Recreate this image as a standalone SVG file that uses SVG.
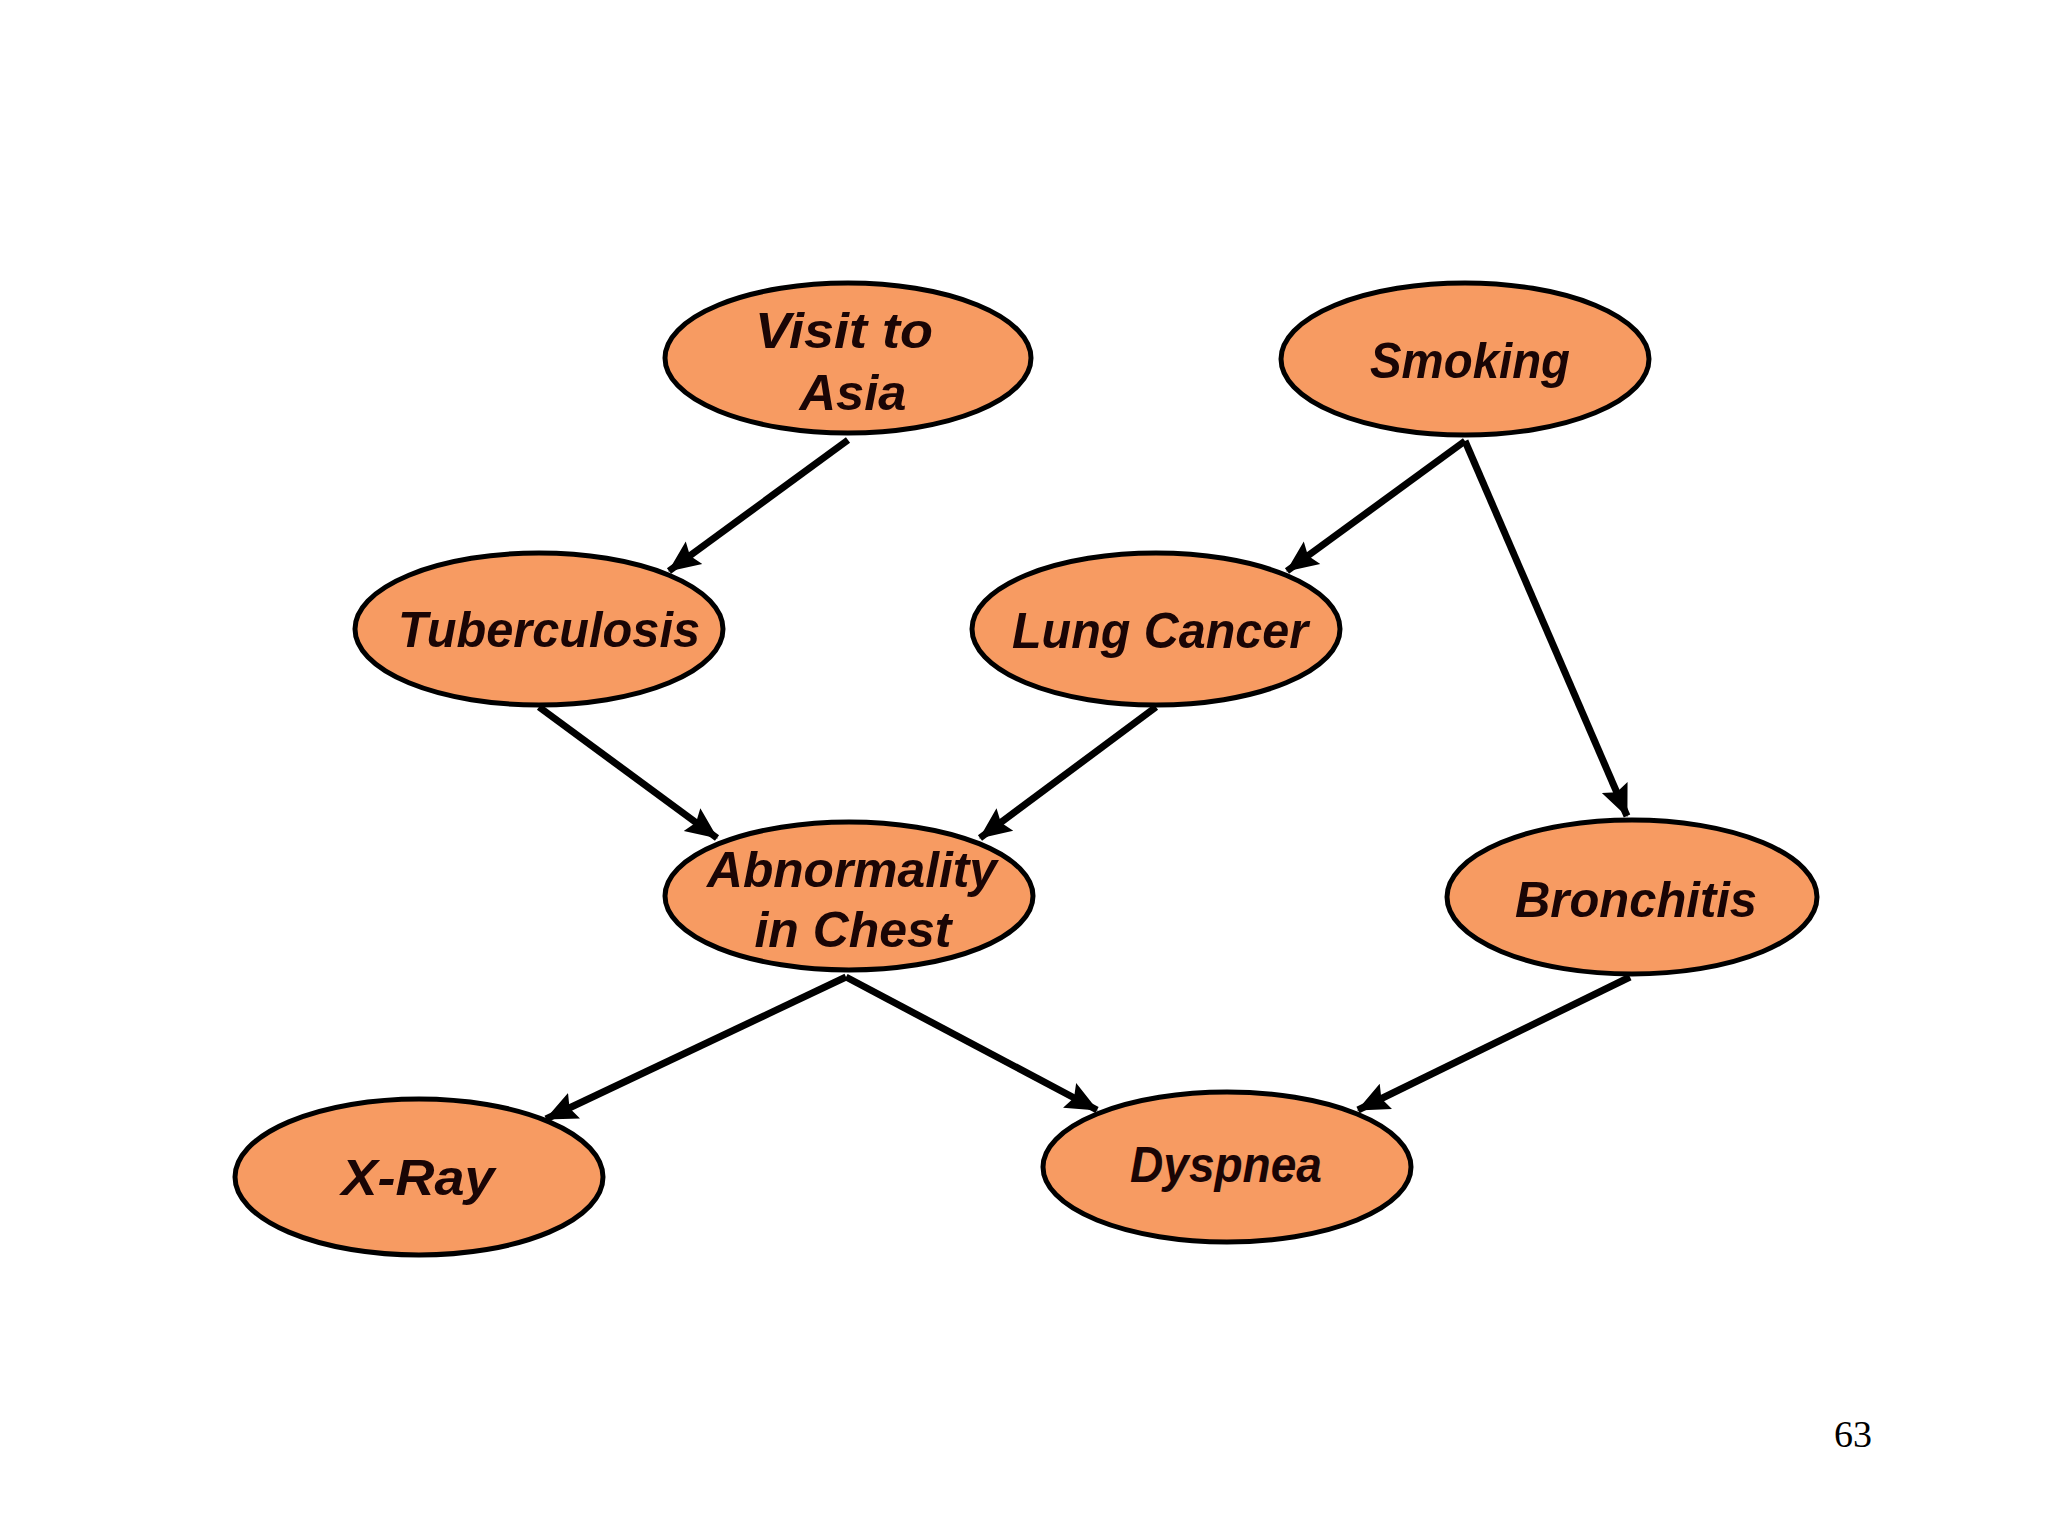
<svg xmlns="http://www.w3.org/2000/svg" width="2048" height="1536" viewBox="0 0 2048 1536">
<defs>
<marker id="ah" markerUnits="userSpaceOnUse" markerWidth="34" markerHeight="30" refX="31" refY="15" orient="auto">
<path d="M0,1 L32,15 L0,29 L5,15 Z" fill="#000"/>
</marker>
</defs>
<style>
.node ellipse{fill:#F79B62;stroke:#000;stroke-width:5}
.node text{font-family:"Liberation Sans","DejaVu Sans",sans-serif;font-style:italic;font-weight:bold;font-size:50px;fill:#1a0505;text-anchor:middle}
.edges line{stroke:#000;stroke-width:7;marker-end:url(#ah)}
.pg{font-family:"Liberation Serif","Times New Roman",serif;font-size:38px;fill:#000}
</style>
<rect width="2048" height="1536" fill="#fff"/>
<g class="edges">
<line x1="848" y1="440" x2="669" y2="571"/>
<line x1="1465" y1="441" x2="1287" y2="571"/>
<line x1="1465" y1="441" x2="1627" y2="816"/>
<line x1="539" y1="707" x2="717" y2="838"/>
<line x1="1156" y1="707" x2="980" y2="838"/>
<line x1="846" y1="977" x2="546" y2="1119"/>
<line x1="846" y1="977" x2="1097" y2="1110"/>
<line x1="1630" y1="977" x2="1358" y2="1110"/>
</g>
<g id="visit" class="node"><ellipse cx="848" cy="358" rx="183" ry="75"/><text x="844" y="348" textLength="178" lengthAdjust="spacingAndGlyphs">Visit to</text><text x="853" y="410" textLength="107" lengthAdjust="spacingAndGlyphs">Asia</text></g>
<g id="smoking" class="node"><ellipse cx="1465" cy="359" rx="184" ry="76"/><text x="1470" y="378" textLength="200" lengthAdjust="spacingAndGlyphs">Smoking</text></g>
<g id="tuberculosis" class="node"><ellipse cx="539" cy="629" rx="184" ry="76"/><text x="549" y="647" textLength="302" lengthAdjust="spacingAndGlyphs">Tuberculosis</text></g>
<g id="lungcancer" class="node"><ellipse cx="1156" cy="629" rx="184" ry="76"/><text x="1160" y="648" textLength="296" lengthAdjust="spacingAndGlyphs">Lung Cancer</text></g>
<g id="abnormality" class="node"><ellipse cx="849" cy="896" rx="184" ry="74"/><text x="852" y="887" textLength="290" lengthAdjust="spacingAndGlyphs">Abnormality</text><text x="853" y="947" textLength="197" lengthAdjust="spacingAndGlyphs">in Chest</text></g>
<g id="bronchitis" class="node"><ellipse cx="1632" cy="897" rx="185" ry="77"/><text x="1636" y="917" textLength="242" lengthAdjust="spacingAndGlyphs">Bronchitis</text></g>
<g id="xray" class="node"><ellipse cx="419" cy="1177" rx="184" ry="78"/><text x="418" y="1195" textLength="153" lengthAdjust="spacingAndGlyphs">X-Ray</text></g>
<g id="dyspnea" class="node"><ellipse cx="1227" cy="1167" rx="184" ry="75"/><text x="1226" y="1182" textLength="192" lengthAdjust="spacingAndGlyphs">Dyspnea</text></g>
<text class="pg" x="1834" y="1447">63</text>
</svg>
